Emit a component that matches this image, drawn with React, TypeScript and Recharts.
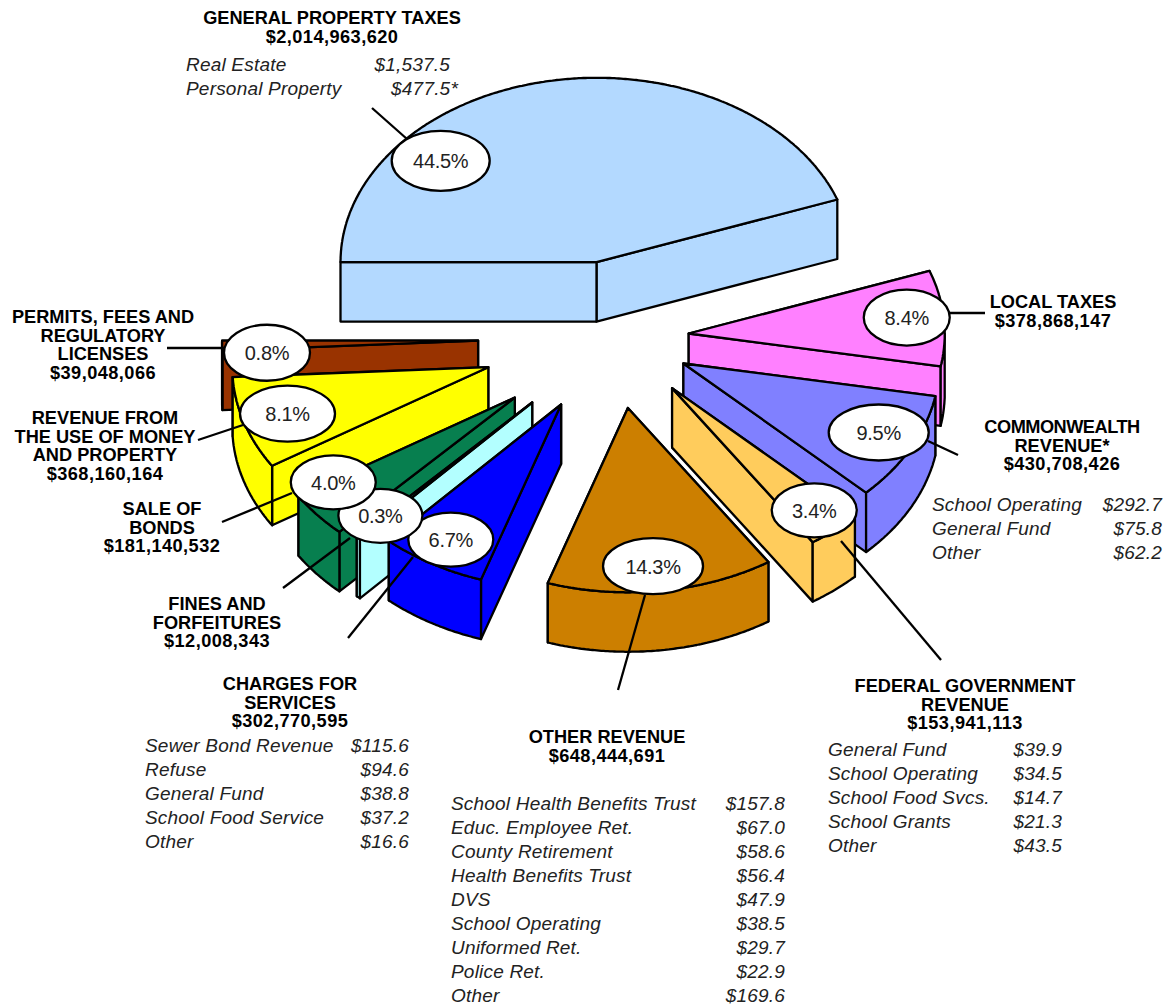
import { PieChart, Pie } from 'recharts';

// dollars per revenue source, clockwise from the left edge of the big slice
const sources = [
  'General Property Taxes', 'Local Taxes', 'Commonwealth Revenue', 'Federal Government Revenue', 'Other Revenue',
  'Charges for Services', 'Fines and Forfeitures', 'Sale of Bonds', 'Revenue from the Use of Money and Property',
  'Permits, Fees and Regulatory Licenses',
];
const amounts = [2014963620, 378868147, 430708426, 153941113, 648444691, 302770595, 12008343, 181140532, 368160164, 39048066];
const percentLabels = ['44.5%', '8.4%', '9.5%', '3.4%', '14.3%', '6.7%', '0.3%', '4.0%', '8.1%', '0.8%'];

const realEstate = [['Real Estate', '$1,537.5'], ['Personal Property', '$477.5*']];
const commonwealth = [['School Operating', '$292.7'], ['General Fund', '$75.8'], ['Other', '$62.2']];
const federal = [['General Fund', '$39.9'], ['School Operating', '$34.5'], ['School Food Svcs.', '$14.7'], ['School Grants', '$21.3'], ['Other', '$43.5']];
const otherRevenue = [
  ['School Health Benefits Trust', '$157.8'], ['Educ. Employee Ret.', '$67.0'], ['County Retirement', '$58.6'],
  ['Health Benefits Trust', '$56.4'], ['DVS', '$47.9'], ['School Operating', '$38.5'], ['Uniformed Ret.', '$29.7'],
  ['Police Ret.', '$22.9'], ['Other', '$169.6'],
];
const charges = [['Sewer Bond Revenue', '$115.6'], ['Refuse', '$94.6'], ['General Fund', '$38.8'], ['School Food Service', '$37.2'], ['Other', '$16.6']];

// look of the slices
const colors = ['#b3d9ff', '#ff80ff', '#8080ff', '#ffcc5c', '#cc7f00', '#0000ff', '#b3ffff', '#077f4f', '#ffff00', '#993300'];
const explode = [107, 74, 77, 90, 98, 107, 122, 130, 133, 137];
const paintOrder = [0, 1, 2, 3, 4, 9, 8, 7, 6, 5];
const bubbleTurn = [38, 1, 1.2, 0.5, -1, -0.2, -1.2, -6.6, 0.1, 3];
const bubbleReach = [0.82, 0.856, 0.85, 0.865, 0.864, 0.85, 0.854, 0.845, 0.824, 0.827];
const bubbleRx = [49, 43, 50, 42.5, 50, 42.5, 42, 42.5, 47.5, 43];
const bubbleRy = [30, 28, 28, 27, 28, 27, 27, 27, 28, 28];
const leaders = [
  [407, 139, 372, 108], [950, 313, 985, 313], [928, 441, 958, 455], [841, 541, 941, 660], [645, 595, 618, 690],
  [413, 557, 348, 638], [350, 538, 283, 588], [292, 493, 222, 522], [243, 425, 198, 440], [224, 348, 167, 348],
];

const TILT = 0.72;
const DEPTH = 59.5;
const FONT = '"Liberation Sans", Arial, sans-serif';

const tableData = sources.map((name, i) => ({ name, value: amounts[i], fill: colors[i] }));

const onEllipse = (x, y, deg, rx) => {
  const a = (deg * Math.PI) / 180;
  return [x + rx * Math.cos(a), y - rx * TILT * Math.sin(a)];
};
const sweep = (start, end) => {
  const n = Math.ceil(Math.abs(end - start) * 2) + 1;
  return Array.from({ length: n + 1 }, (_, k) => start + ((end - start) * k) / n);
};
const toPath = (pts) => 'M' + pts.map((p) => p[0].toFixed(1) + ',' + p[1].toFixed(1)).join('L');
const lowered = (p) => [p[0], p[1] + DEPTH];

const slicePaint = { stroke: '#000', strokeWidth: 2.3, strokeLinejoin: 'round' };

const Slice3D = ({ index, cx, cy, outerRadius, startAngle, endAngle, fill }) => {
  const mid = (startAngle + endAngle) / 2;
  const [ax, ay] = onEllipse(cx, cy, mid, explode[index]);
  const apex = [ax, ay];
  const angles = sweep(startAngle, endAngle);
  const arc = angles.map((d) => onEllipse(ax, ay, d, outerRadius));
  const first = arc[0];
  const last = arc[arc.length - 1];
  // upper radial wall goes first so the lower one lands on top of it
  const sides = [first, last].sort((p, q) => p[1] - q[1]);
  const front = angles.filter((d) => Math.sin((d * Math.PI) / 180) <= 0).map((d) => onEllipse(ax, ay, d, outerRadius));
  return (
    <g {...slicePaint} fill={fill}>
      {sides.map((p, k) => (
        <path key={k} d={toPath([apex, p, lowered(p), lowered(apex)]) + 'Z'} />
      ))}
      {front.length > 1 && <path d={toPath([...front, ...front.map(lowered).reverse()]) + 'Z'} />}
      <path d={toPath([apex, ...arc]) + 'Z'} />
    </g>
  );
};

const renderBubble = ({ index, cx, cy, midAngle, outerRadius }) => {
  const [ax, ay] = onEllipse(cx, cy, midAngle, explode[index]);
  const [bx, by] = onEllipse(ax, ay, midAngle + bubbleTurn[index], outerRadius * bubbleReach[index]);
  const l = leaders[index];
  return (
    <g key={index}>
      <line x1={l[0]} y1={l[1]} x2={l[2]} y2={l[3]} stroke="#000" strokeWidth={2.3} />
      <ellipse cx={bx} cy={by} rx={bubbleRx[index]} ry={bubbleRy[index]} fill="#fff" stroke="#000" strokeWidth={2.3} />
      <text x={bx} y={by + 7.5} textAnchor="middle" fontSize={20} letterSpacing={-0.3} fontFamily={FONT} fill="#222">
        {percentLabels[index]}
      </text>
    </g>
  );
};

// money lines in the reference are set wider than the capitals
const Heading = ({ x, y, lines }) => (
  <text textAnchor="middle" fontFamily={FONT} fontSize={18.2} fontWeight="bold" fill="#000">
    {lines.map((t, i) => (
      <tspan
        key={i}
        x={x}
        y={y + i * 18.7}
        letterSpacing={t.startsWith('$') ? 0.45 : t === 'COMMONWEALTH' ? -0.5 : 0}
      >
        {t}
      </tspan>
    ))}
  </text>
);

const Rows = ({ x, right, y, rows }) => (
  <g fontFamily={FONT} fontSize={19} fontStyle="italic" letterSpacing={0.2} fill="#222">
    {rows.map((r, i) => (
      <g key={i}>
        <text x={x} y={y + i * 24}>{r[0]}</text>
        <text x={r[1].endsWith('*') ? right + 8 : right} y={y + i * 24} textAnchor="end">{r[1]}</text>
      </g>
    ))}
  </g>
);

export default function App() {
  const common = {
    data: tableData, dataKey: 'value', cx: 615, cy: 338, outerRadius: 256, startAngle: 180, endAngle: -180,
    isAnimationActive: false,
  };
  return (
    <div style={{ position: 'absolute', left: 0, top: 0, width: 1168, height: 1005, background: '#fff' }}>
      <PieChart width={1168} height={1005} margin={{ top: 0, right: 0, bottom: 0, left: 0 }}>
        {paintOrder.map((which) => (
          <Pie
            key={which}
            {...common}
            shape={(p) => (p.index === which ? <Slice3D {...p} /> : <g />)}
          />
        ))}
        <Pie {...common} shape={() => <g />} labelLine={false} label={renderBubble} />
        <Heading x={332} y={24} lines={['GENERAL PROPERTY TAXES', '$2,014,963,620']} />
        <Rows x={186} right={450} y={71} rows={realEstate} />
        <Heading x={1053} y={308} lines={['LOCAL TAXES', '$378,868,147']} />
        <Heading x={1062} y={433} lines={['COMMONWEALTH', 'REVENUE*', '$430,708,426']} />
        <Rows x={932} right={1162} y={511} rows={commonwealth} />
        <Heading x={965} y={692} lines={['FEDERAL GOVERNMENT', 'REVENUE', '$153,941,113']} />
        <Rows x={828} right={1062} y={756} rows={federal} />
        <Heading x={607} y={743} lines={['OTHER REVENUE', '$648,444,691']} />
        <Rows x={451} right={785} y={810} rows={otherRevenue} />
        <Heading x={290} y={690} lines={['CHARGES FOR', 'SERVICES', '$302,770,595']} />
        <Rows x={145} right={409} y={752} rows={charges} />
        <Heading x={217} y={610} lines={['FINES AND', 'FORFEITURES', '$12,008,343']} />
        <Heading x={162} y={515} lines={['SALE OF', 'BONDS', '$181,140,532']} />
        <Heading x={105} y={424} lines={['REVENUE FROM', 'THE USE OF MONEY', 'AND PROPERTY', '$368,160,164']} />
        <Heading x={103} y={323} lines={['PERMITS, FEES AND', 'REGULATORY', 'LICENSES', '$39,048,066']} />
      </PieChart>
    </div>
  );
}
